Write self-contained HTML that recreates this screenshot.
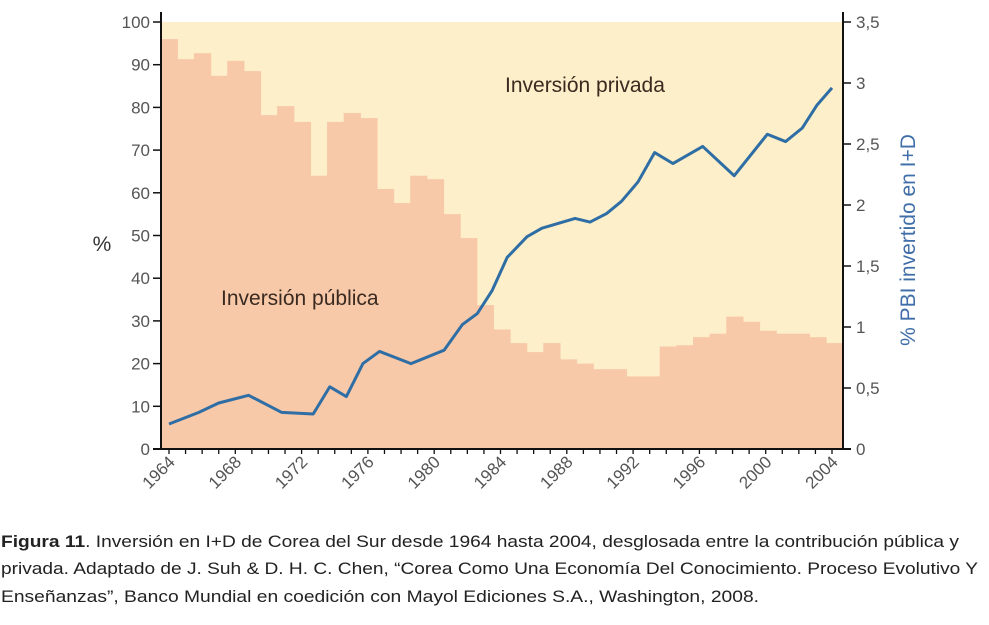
<!DOCTYPE html>
<html><head><meta charset="utf-8"><style>
body{margin:0;background:#fff;width:989px;height:625px;overflow:hidden}
svg{display:block;font-family:"Liberation Sans",sans-serif}
</style></head><body>
<svg id="c" width="989" height="625">
<g id="plot"></g>
<g id="axes"></g>
<text x="221" y="305" font-size="21" fill="#3a2a20">Inversión pública</text>
<text x="505" y="92" font-size="21" fill="#3a2a20">Inversión privada</text>
<text x="102" y="251" font-size="21" fill="#333" text-anchor="middle">%</text>
<text transform="translate(915,240) rotate(-90)" font-size="21" fill="#3f6ea8" text-anchor="middle">% PBI invertido en I+D</text>
<g font-size="17" fill="#222">
<text x="1" y="547" textLength="958" lengthAdjust="spacingAndGlyphs"><tspan font-weight="bold">Figura 11</tspan>. Inversión en I+D de Corea del Sur desde 1964 hasta 2004, desglosada entre la contribución pública y</text>
<text x="1" y="574" textLength="977" lengthAdjust="spacingAndGlyphs">privada. Adaptado de J. Suh &amp; D. H. C. Chen, “Corea Como Una Economía Del Conocimiento. Proceso Evolutivo Y</text>
<text x="1" y="602" textLength="758" lengthAdjust="spacingAndGlyphs">Enseñanzas”, Banco Mundial en coedición con Mayol Ediciones S.A., Washington, 2008.</text>
</g>
</svg>
<script>
const barYears=[1964,1965,1966,1967,1968,1969,1970,1971,1972,1973,1974,1975,1976,1977,1978,1979,1980,1981,1982,1983,1984,1985,1986,1987,1988,1989,1990,1991,1992,1993,1994,1995,1996,1997,1998,1999,2000,2001,2002,2003,2004];
const publicShare=[96,91.3,92.7,87.4,90.9,88.5,78.2,80.3,76.6,64,76.6,78.7,77.5,60.9,57.6,64,63.2,55,49.4,33.7,28,24.8,22.7,24.8,21,20,18.7,18.7,17,17,24,24.3,26.2,27,31,29.8,27.7,27,27,26.2,24.8];
const lineYears=[1964,1965.8,1967,1968.8,1970.8,1972.7,1973.7,1974.7,1975.7,1976.7,1978.6,1980.6,1981.7,1982.6,1983.5,1984.4,1985.6,1986.5,1987.5,1988.5,1989.4,1990.4,1991.3,1992.3,1993.3,1994.4,1996.2,1998.1,2000.1,2001.2,2002.2,2003.1,2004];
const gdpShare=[0.205,0.30,0.377,0.44,0.30,0.287,0.51,0.43,0.70,0.80,0.70,0.81,1.02,1.11,1.30,1.57,1.74,1.81,1.85,1.89,1.86,1.93,2.03,2.19,2.43,2.34,2.48,2.24,2.58,2.52,2.63,2.82,2.96];
const leftTicks=[0,10,20,30,40,50,60,70,80,90,100];
const rightTicks=[0,0.5,1,1.5,2,2.5,3,3.5];
const rightTickLabels=["0","0,5","1","1,5","2","2,5","3","3,5"];
const yearLabels=[1964,1968,1972,1976,1980,1984,1988,1992,1996,2000,2004];

const X0=161,X1=843,Y0=449,Y1=22;
const x=y=>169+(y-1964)*(832-169)/40;
const yL=v=>Y0-(v/100)*(Y0-Y1);
const yR=v=>Y0-(v/3.5)*(Y0-Y1);
const NS="http://www.w3.org/2000/svg";
const mk=(t,a,p)=>{const e=document.createElementNS(NS,t);for(const k in a)e.setAttribute(k,a[k]);p.appendChild(e);return e;};
const plot=document.getElementById('plot'),axes=document.getElementById('axes');
const bg=mk('rect',{x:X0,y:Y1,width:X1-X0,height:Y0-Y1,fill:'#fdefc9'},plot);


const bw=(X1-X0)/barYears.length;
barYears.forEach((yr,i)=>{
  const r=mk('rect',{x:X0+i*bw-0.3,y:yL(publicShare[i]),width:bw+0.6,height:Y0-yL(publicShare[i]),fill:'#f7c9a9'},plot);
  
  
});
const pl=mk('polyline',{points:lineYears.map((yr,i)=>x(yr)+','+yR(gdpShare[i])).join(' '),fill:'none',stroke:'#2f6ea5','stroke-width':3,'stroke-linejoin':'round'},plot);


mk('line',{x1:X0,y1:12,x2:X0,y2:Y0+1,stroke:'#111','stroke-width':2},axes);
mk('line',{x1:X1,y1:12,x2:X1,y2:Y0+1,stroke:'#111','stroke-width':2},axes);
mk('line',{x1:X0-8,y1:Y0,x2:X1+8,y2:Y0,stroke:'#111','stroke-width':2},axes);
leftTicks.forEach(v=>{
  mk('line',{x1:X0-8,y1:yL(v),x2:X0,y2:yL(v),stroke:'#111','stroke-width':1.5},axes);
  const t=mk('text',{x:X0-11,y:yL(v)+6,'font-size':17,fill:'#555','text-anchor':'end'},axes);t.textContent=v;
  
  
});
rightTicks.forEach((v,i)=>{
  mk('line',{x1:X1,y1:yR(v),x2:X1+8,y2:yR(v),stroke:'#111','stroke-width':1.5},axes);
  const t=mk('text',{x:X1+13,y:yR(v)+6,'font-size':17,fill:'#555'},axes);t.textContent=rightTickLabels[i];
  
  
});
barYears.forEach(yr=>{mk('line',{x1:x(yr),y1:Y0,x2:x(yr),y2:Y0+5,stroke:'#111','stroke-width':1.3},axes);});
yearLabels.forEach(yr=>{
  const t=mk('text',{transform:`translate(${x(yr)+7},${Y0+14}) rotate(-45)`,'font-size':17,fill:'#555','text-anchor':'end'},axes);t.textContent=yr;
  
  
});
</script>
</body></html>
